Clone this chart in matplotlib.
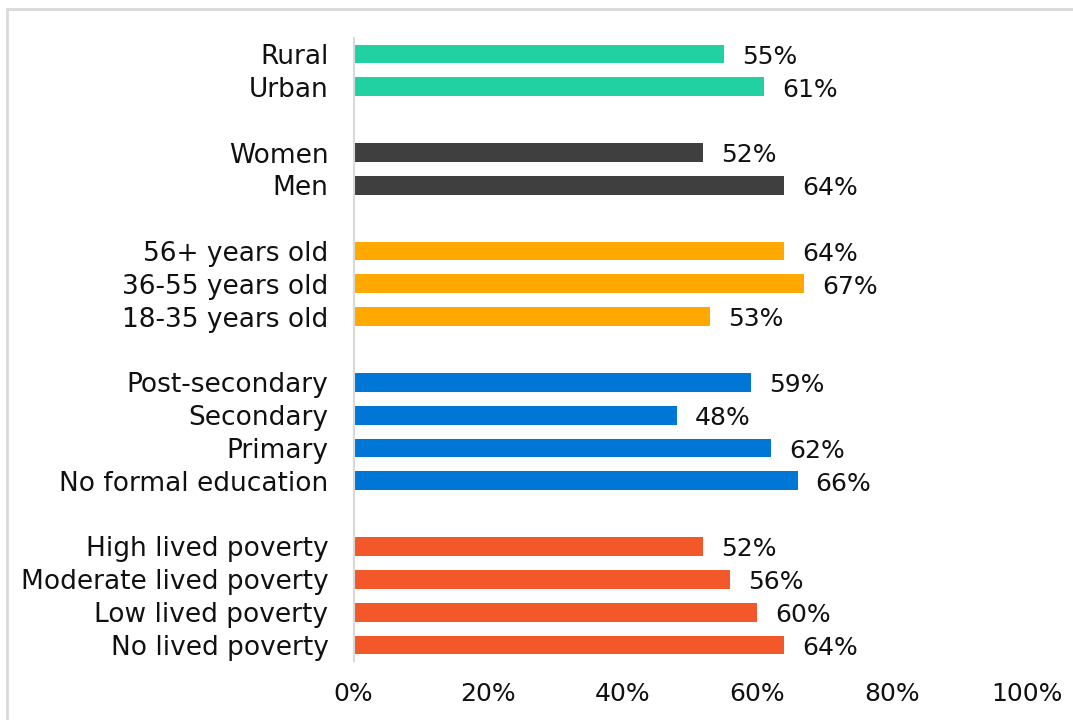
import matplotlib
matplotlib.use("Agg")
import matplotlib.pyplot as plt
from matplotlib.patches import Rectangle

plt.rcParams['font.family'] = ['DejaVu Sans']

# Groups of categories, top to bottom, with their shares (%)
location_labels = ["Rural", "Urban"]
location_values = [55, 61]

gender_labels = ["Women", "Men"]
gender_values = [52, 64]

age_labels = ["56+ years old", "36-55 years old", "18-35 years old"]
age_values = [64, 67, 53]

education_labels = ["Post-secondary", "Secondary", "Primary", "No formal education"]
education_values = [59, 48, 62, 66]

poverty_labels = ["High lived poverty", "Moderate lived poverty",
                  "Low lived poverty", "No lived poverty"]
poverty_values = [52, 56, 60, 64]

x_ticks = [0, 20, 40, 60, 80, 100]

groups = [
    (location_labels, location_values, "#22D1A1"),
    (gender_labels, gender_values, "#3F3F3F"),
    (age_labels, age_values, "#FFA800"),
    (education_labels, education_values, "#0077D6"),
    (poverty_labels, poverty_values, "#F2582A"),
]

fig = plt.figure(figsize=(10.73, 7.2), dpi=100)
ax = fig.add_axes([353.5 / 1073, 1 - 661.4 / 720, 673 / 1073, 623.8 / 720])

# Outer light frame (top and left edges are visible)
fig.patches.append(Rectangle((7 / 1073, -0.1), 1.2, (720 - 9) / 720 + 0.1,
                             transform=fig.transFigure, fill=False,
                             edgecolor="#D9D9D9", linewidth=2, zorder=0))

ypos_all, labels_all = [], []
slot = 0
for gi, (labels, values, color) in enumerate(groups):
    if gi > 0:
        slot += 1  # blank row between groups
    for lab, val in zip(labels, values):
        y = slot
        ax.barh(y, val, height=0.57, color=color, zorder=2)
        ax.annotate(f"{val}%", xy=(val, y), xytext=(13, -2),
                    textcoords="offset points", va="center", ha="left",
                    fontsize=18, color="#111111")
        ypos_all.append(y)
        labels_all.append(lab)
        slot += 1

ax.set_ylim(slot - 0.5, -0.5)
ax.set_xlim(0, 100)
ax.set_yticks(ypos_all)
ax.set_yticklabels(labels_all, fontsize=19, color="#111111")
ax.set_xticks(x_ticks)
ax.set_xticklabels([f"{t}%" for t in x_ticks], fontsize=18, color="#111111")
ax.tick_params(axis="y", length=0, pad=18)
ax.tick_params(axis="x", length=0, pad=15)

for side in ["top", "right", "bottom"]:
    ax.spines[side].set_visible(False)
ax.spines["left"].set_color("#D9D9D9")
ax.spines["left"].set_linewidth(1.5)

fig.savefig("out.png", dpi=100)
